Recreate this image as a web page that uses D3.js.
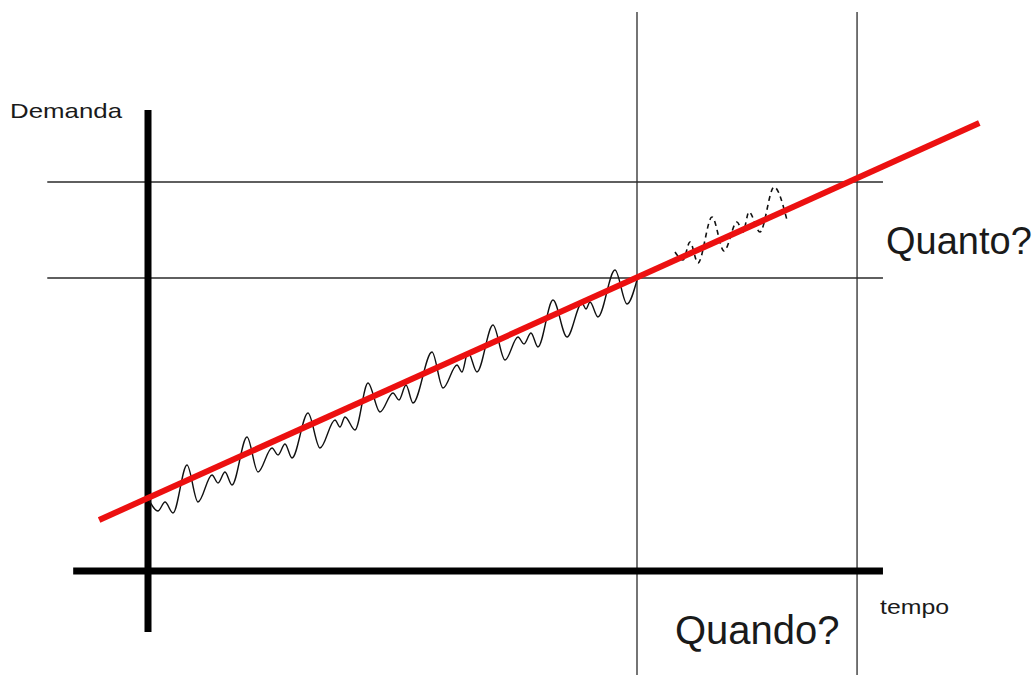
<!DOCTYPE html>
<html>
<head>
<meta charset="utf-8">
<script src="https://cdn.jsdelivr.net/npm/d3@7"></script>
<style>
  html, body { margin: 0; padding: 0; background: #fff; }
  svg { display: block; }
  text { font-family: "Liberation Sans", Arial, sans-serif; fill: #1a1a1a; }
</style>
</head>
<body>
<svg id="chart" width="1036" height="675"></svg>
<script>
// ---- Data ----
// Observed demand (oscillating series), tempo vs demanda
const obsTempo = [0, 2.04, 3.48, 5.11, 7.98, 10.22, 13.09, 14.32, 15.75, 17.18,
  20.25, 22.49, 25.36, 26.59, 28.02, 29.45, 32.72, 35.17, 38.24, 39.26,
  40.29, 42.33, 44.99, 47.44, 50.10, 51.33, 52.76, 54.19, 58.08, 60.33,
  63.19, 64.21, 65.44, 67.28, 70.55, 73.01, 75.66, 76.89, 78.32, 79.75,
  82.82, 85.69, 88.75, 89.57, 90.39, 92.02, 95.50, 97.96, 100];
const obsDemanda = [14.6, 12.0, 13.8, 11.6, 21.2, 13.8, 19.2, 17.6, 19.8, 17.2,
  26.8, 19.8, 24.6, 23.2, 25.4, 22.6, 31.6, 24.6, 30.2, 28.8,
  30.8, 28.2, 37.6, 31.8, 35.6, 34.2, 37.2, 33.6, 43.8, 36.6,
  41.2, 39.8, 43.8, 39.8, 49.2, 42.2, 46.8, 45.4, 47.6, 44.8,
  54.2, 46.8, 53.6, 52.4, 53.8, 50.8, 60.2, 53.4, 58.2];
// Forecast (dashed) series
const fcTempo = [107.77, 109.41, 110.84, 112.47, 115.34, 117.79, 120.45, 121.68, 122.90, 125.15, 128.02, 130.67];
const fcDemanda = [63.8, 62.2, 65.8, 61.6, 70.8, 64.0, 69.8, 67.8, 71.8, 67.8, 76.8, 70.2];
// Trend line (start / end)
const trendTempo = [-10, 170];
const trendDemanda = [10.2, 89.6];
// Guide lines
const guideTempos = [100, 145];        // "now" and "when?"
const guideDemandas = [58.6, 77.8];    // current level and "how much?"
// Labels
const labels = ["Demanda", "tempo", "Quanto?", "Quando?"];

// ---- Scales ----
const svg = d3.select("#chart");
const x = d3.scaleLinear().domain([0, 100]).range([148, 637]);
const y = d3.scaleLinear().domain([0, 100]).range([571, 71]);

// Extents (in data units) for the drawn frame lines
const xAxisExt = [-15.3, 150.3];
const yAxisExt = [-12.2, 92.2];
const hGuideExt = [-20.6, 150.3];
const vGuideExt = [-20.8, 111.8];

// Thin guide lines
svg.append("g").selectAll("line.hg").data(guideDemandas).join("line")
  .attr("x1", x(hGuideExt[0])).attr("x2", x(hGuideExt[1]))
  .attr("y1", d => y(d)).attr("y2", d => y(d))
  .attr("stroke", "#2a2a2a").attr("stroke-width", 1.3);
svg.append("g").selectAll("line.vg").data(guideTempos).join("line")
  .attr("x1", d => x(d)).attr("x2", d => x(d))
  .attr("y1", y(vGuideExt[0])).attr("y2", y(vGuideExt[1]))
  .attr("stroke", "#2a2a2a").attr("stroke-width", 1.3);

// Thick axes
svg.append("line")
  .attr("x1", x(xAxisExt[0])).attr("x2", x(xAxisExt[1]))
  .attr("y1", y(0)).attr("y2", y(0))
  .attr("stroke", "#000").attr("stroke-width", 7);
svg.append("line")
  .attr("x1", x(0)).attr("x2", x(0))
  .attr("y1", y(yAxisExt[0])).attr("y2", y(yAxisExt[1]))
  .attr("stroke", "#000").attr("stroke-width", 7);

// Observed wave
const line = d3.line().x(d => x(d[0])).y(d => y(d[1])).curve(d3.curveMonotoneX);
svg.append("path")
  .datum(d3.zip(obsTempo, obsDemanda))
  .attr("d", line)
  .attr("fill", "none").attr("stroke", "#111").attr("stroke-width", 1.4);

// Forecast wave (dashed)
svg.append("path")
  .datum(d3.zip(fcTempo, fcDemanda))
  .attr("d", line)
  .attr("fill", "none").attr("stroke", "#111").attr("stroke-width", 1.6)
  .attr("stroke-dasharray", "5,4");

// Trend line
svg.append("path")
  .datum(d3.zip(trendTempo, trendDemanda))
  .attr("d", d3.line().x(d => x(d[0])).y(d => y(d[1])))
  .attr("fill", "none").attr("stroke", "#ec1010").attr("stroke-width", 6);

// Labels
svg.append("text").attr("x", 10).attr("y", 118).attr("font-size", 21)
  .attr("textLength", 112).attr("lengthAdjust", "spacingAndGlyphs").text(labels[0]);
svg.append("text").attr("x", 880).attr("y", 614).attr("font-size", 21)
  .attr("textLength", 69).attr("lengthAdjust", "spacingAndGlyphs").text(labels[1]);
svg.append("text").attr("x", 886).attr("y", 254).attr("font-size", 38).text(labels[2]);
svg.append("text").attr("x", 675).attr("y", 644).attr("font-size", 40).text(labels[3]);
</script>
</body>
</html>
